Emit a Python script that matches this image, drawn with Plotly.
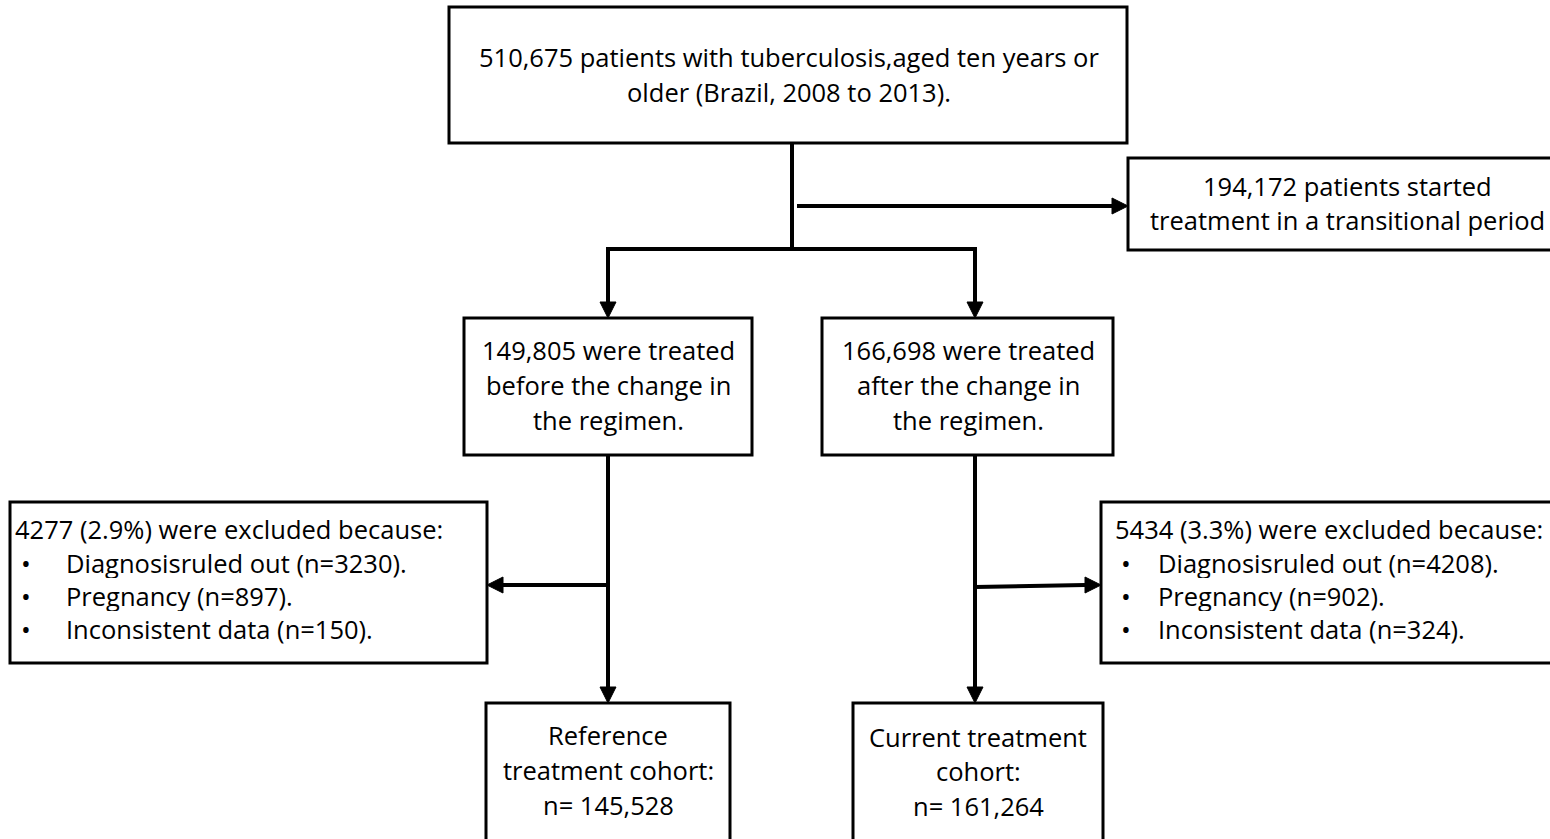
import plotly.graph_objects as go

# ---- data (counts shown in the flowchart) ----
total_patients = "510,675"
transitional = "194,172"
before_change = "149,805"
after_change = "166,698"
excl_before = ["4277 (2.9%)", "3230", "897", "150"]
excl_after = ["5434 (3.3%)", "4208", "902", "324"]
cohort_ref = "145,528"
cohort_cur = "161,264"

FONT = "Open Sans"
FS = 25.5
W, H = 1550, 839

fig = go.Figure()
shapes = []
annotations = []


def box(x0, y0, x1, y1):
    shapes.append(dict(type="rect", xref="x", yref="y", x0=x0, y0=y0, x1=x1, y1=y1,
                       line=dict(color="black", width=3), fillcolor="white", layer="below"))


def line(x0, y0, x1, y1):
    shapes.append(dict(type="line", xref="x", yref="y", x0=x0, y0=y0, x1=x1, y1=y1,
                       line=dict(color="black", width=4)))


def head(x, y, direction):
    L, Wd = 16, 8
    if direction == "down":
        p = f"M{x},{y} L{x-Wd},{y-L} L{x+Wd},{y-L} Z"
    elif direction == "right":
        p = f"M{x},{y} L{x-L},{y-Wd} L{x-L},{y+Wd} Z"
    else:
        p = f"M{x},{y} L{x+L},{y-Wd} L{x+L},{y+Wd} Z"
    shapes.append(dict(type="path", xref="x", yref="y", path=p,
                       fillcolor="black", line=dict(color="black", width=1)))


def text(x, y, s, anchor="center", size=FS, height=None):
    a = dict(x=x, y=y, xref="x", yref="y", text=s, showarrow=False,
             xanchor=anchor, yanchor="middle", borderpad=0,
             font=dict(family=FONT, size=size, color="black"))
    if height:
        a["height"] = height
    annotations.append(a)


# boxes
box(449, 7, 1127, 143)
box(1128, 158, 1565, 250)
box(464, 318, 752, 455)
box(822, 318, 1113, 455)
box(10, 502, 487, 663)
box(1101, 502, 1565, 663)
box(486, 703, 730, 845)
box(853, 703, 1103, 845)

# connectors
line(792, 143, 792, 249)
line(797, 206, 1112, 206)
head(1128, 206, "right")
line(606, 249, 977, 249)
line(608, 249, 608, 303)
head(608, 318, "down")
line(975, 249, 975, 303)
head(975, 318, "down")
line(608, 455, 608, 688)
head(608, 703, "down")
line(608, 585, 503, 585)
head(487, 585, "left")
line(975, 455, 975, 688)
head(975, 703, "down")
line(975, 587, 1085, 585)
head(1101, 585, "right")

# texts
text(789, 57, f"{total_patients} patients with tuberculosis,aged ten years or")
text(789, 92, "older (Brazil, 2008 to 2013).")
text(1347, 186, f"{transitional} patients started")
text(1347, 220, "treatment in a transitional period")
text(608, 350, f"{before_change} were treated")
text(608, 385, "before the change in")
text(608, 420, "the regimen.")
text(968, 350, f"{after_change} were treated")
text(968, 385, "after the change in")
text(968, 420, "the regimen.")

for x_h, x_b, x_t, ex in [(14, 20, 65, excl_before), (1114, 1120, 1157, excl_after)]:
    text(x_h, 529, f"{ex[0]} were excluded because:", "left", height=30)
    items = [f"Diagnosisruled out (n={ex[1]}).", f"Pregnancy (n={ex[2]}).",
             f"Inconsistent data (n={ex[3]})."]
    for i, it in enumerate(items):
        y = 563 + 33 * i
        text(x_b, y, "•", "left", size=26, height=28)
        text(x_t, y, it, "left", height=30)

text(608, 735, "Reference")
text(608, 770, "treatment cohort:")
text(608, 805, f"n= {cohort_ref}")
text(978, 737, "Current treatment")
text(978, 771, "cohort:")
text(978, 806, f"n= {cohort_cur}")

fig.update_layout(
    width=W, height=H,
    margin=dict(l=0, r=0, t=0, b=0),
    paper_bgcolor="white", plot_bgcolor="white",
    xaxis=dict(range=[0, W], visible=False, fixedrange=True),
    yaxis=dict(range=[H, 0], visible=False, fixedrange=True),
    shapes=shapes, annotations=annotations, showlegend=False,
)
fig.write_html("out.html", config={"displayModeBar": False},
               post_script="document.body.style.margin='0';document.body.style.overflow='hidden';")
